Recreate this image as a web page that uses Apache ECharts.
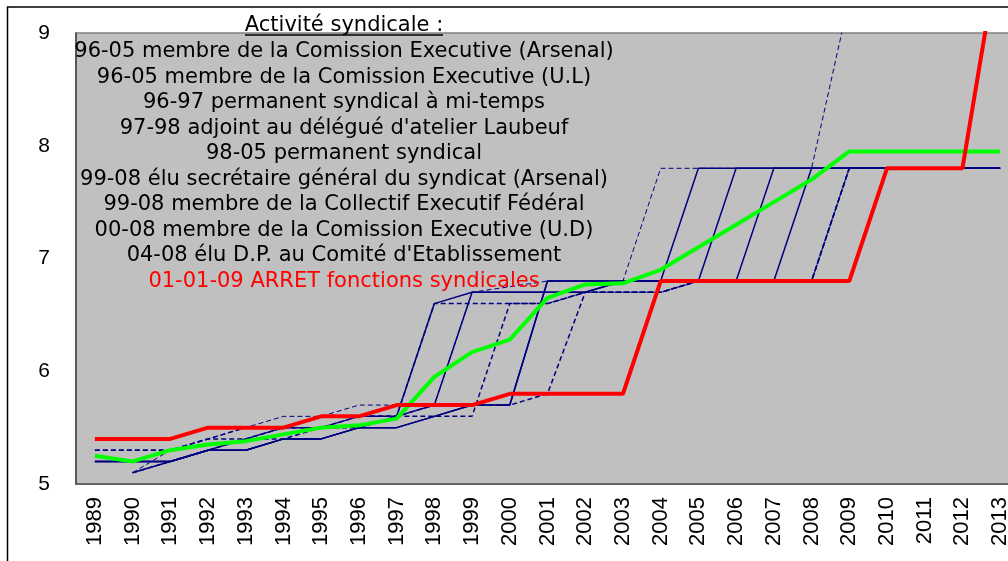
<!DOCTYPE html>
<html>
<head>
<meta charset="utf-8">
<script src="https://cdn.jsdelivr.net/npm/echarts@6/dist/echarts.min.js"></script>
<style>
  html, body { margin: 0; padding: 0; background: #fff; overflow: hidden; }
  #chart { width: 1019px; height: 561px; }
</style>
</head>
<body>
<div id="chart"></div>
<script>
// annees
const years = ["1989", "1990", "1991", "1992", "1993", "1994", "1995", "1996", "1997", "1998", "1999", "2000", "2001",
  "2002", "2003", "2004", "2005", "2006", "2007", "2008", "2009", "2010", "2011", "2012", "2013"];

// parcours personnel (rouge) et moyenne (vert)
const redLine = [5.4, 5.4, 5.4, 5.5, 5.5, 5.5, 5.6, 5.6, 5.7, 5.7, 5.7, 5.8, 5.8, 5.8, 5.8, 6.8, 6.8, 6.8, 6.8, 6.8, 6.8, 7.8, 7.8, 7.8, 9.8];
const greenLine = [5.25, 5.2, 5.3, 5.35, 5.38, 5.44, 5.5, 5.52, 5.58, 5.95, 6.17, 6.28, 6.65, 6.77, 6.78, 6.9, 7.1, 7.3, 7.5, 7.7, 7.95, 7.95, 7.95, 7.95, 7.95];

// collegues (bleu plein)
const blueS1 = [5.2, 5.2, 5.2, 5.3, 5.3, 5.4, 5.4, 5.5, 5.6, 6.6, 6.7, 6.7, 6.7, 6.7, 6.8, 6.8, 6.8, 7.8, 7.8, 7.8, 7.8, 7.8, 7.8, 7.8, 7.8];
const blueS2 = [null, 5.1, 5.2, 5.3, 5.4, 5.5, 5.5, 5.6, 5.6, 5.7, 6.7, 6.7, 6.7, 6.7, 6.8, 6.8, 6.8, 6.8, 7.8, 7.8, 7.8, 7.8, 7.8, 7.8, 7.8];
const blueS5 = [5.2, 5.2, 5.2, 5.3, 5.3, 5.4, 5.4, 5.5, 5.5, 5.6, 5.7, 5.7, 6.8, 6.8, 6.8, 6.8, 7.8, 7.8, 7.8, 7.8, 7.8, 7.8, 7.8, 7.8, 7.8];
const blueS6 = [5.2, 5.2, 5.2, 5.3, 5.3, 5.4, 5.4, 5.5, 5.5, 5.6, 5.7, 5.7, 6.8, 6.8, 6.8, 6.8, 6.8, 6.8, 6.8, 7.8, 7.8, 7.8, 7.8, 7.8, 7.8];
// collegues (bleu pointille)
const blueS3 = [null, 5.1, 5.3, 5.4, 5.5, 5.6, 5.6, 5.7, 5.7, 5.7, 6.7, 6.75, 6.8, 6.8, 6.8, 7.8, 7.8, 7.8, 7.8, 7.8, 9.3, 9.3, 9.3, 9.3, 9.3];
const blueS4 = [null, 5.1, 5.2, 5.3, 5.4, 5.4, 5.5, 5.5, 5.6, 5.6, 5.6, 6.6, 6.6, 6.7, 6.7, 6.7, 6.8, 6.8, 6.8, 6.8, 7.8, 7.8, 7.8, 7.8, 7.8];
const blueS7 = [5.3, 5.3, 5.3, 5.4, 5.4, 5.5, 5.5, 5.6, 5.6, 6.6, 6.6, 6.6, 6.6, 6.7, 6.7, 6.7, 6.8, 6.8, 6.8, 6.8, 7.8, 7.8, 7.8, 7.8, 7.8];
const blueS8 = [5.3, 5.3, 5.3, 5.4, 5.5, 5.5, 5.6, 5.6, 5.6, 5.7, 5.7, 5.7, 5.8, 6.7, 6.7, 6.7, 6.8, 6.8, 6.8, 6.8, 7.8, 7.8, 7.8, 7.8, 7.8];

const yTicks = [5, 9, 1]; // min, max, interval

const notes = [
  "96-05 membre de la Comission Executive (Arsenal)",
  "96-05 membre de la Comission Executive (U.L)",
  "96-97 permanent syndical à mi-temps",
  "97-98 adjoint au délégué d'atelier Laubeuf",
  "98-05 permanent syndical",
  "99-08 élu secrétaire général du syndicat (Arsenal)",
  "99-08 membre de la Collectif Executif Fédéral",
  "00-08 membre de la Comission Executive (U.D)",
  "04-08 élu D.P. au Comité d'Etablissement"
];
const stopNote = "01-01-09 ARRET fonctions syndicales";

const noteFont = "21px 'DejaVu Sans', sans-serif";
const navy = "#000080";

function blueLine(data, dashed, width) {
  return {
    type: "line",
    data: data,
    symbol: "none",
    silent: true,
    z: 2,
    lineStyle: {
      color: navy,
      width: width || 1.5,
      type: dashed ? [5, 3] : "solid"
    }
  };
}

const chart = echarts.init(document.getElementById("chart"));

const graphics = [];
graphics.push({
  type: "text",
  z: 10,
  x: 344,
  y: 26,
  style: { text: "Activité syndicale :", fill: "#000", font: noteFont, textAlign: "center", textVerticalAlign: "middle" }
});
notes.forEach((t, i) => {
  graphics.push({
    type: "text",
    z: 10,
    x: 344,
    y: 52 + i * 25.5,
    style: { text: t, fill: "#000", font: noteFont, textAlign: "center", textVerticalAlign: "middle" }
  });
});
graphics.push({
  type: "text",
  z: 10,
  x: 344,
  y: 52 + notes.length * 25.5,
  style: { text: stopNote, fill: "#ff0000", font: noteFont, textAlign: "center", textVerticalAlign: "middle" }
});
// soulignement du titre
graphics.push({
  type: "line",
  z: 10,
  shape: { x1: 245, y1: 35, x2: 443, y2: 35 },
  style: { stroke: "#000", lineWidth: 1.5 }
});
// cadre exterieur
graphics.push({
  type: "rect",
  z: 0,
  shape: { x: 7.5, y: 7, width: 1100, height: 700 },
  style: { fill: "none", stroke: "#000", lineWidth: 1.5 }
});

chart.setOption({
  animation: false,
  backgroundColor: "#fff",
  grid: {
    left: 76,
    top: 33,
    bottom: 77,
    right: 0,
    show: true,
    backgroundColor: "#c0c0c0",
    borderColor: "#808080",
    borderWidth: 1.5
  },
  xAxis: {
    type: "category",
    data: years,
    boundaryGap: true,
    axisLine: { lineStyle: { color: "#555", width: 1.5 } },
    axisTick: { show: false },
    axisLabel: {
      rotate: 90,
      margin: 13,
      color: "#000",
      fontSize: 22,
      fontFamily: "'Liberation Sans Narrow', 'Liberation Sans', Arial, sans-serif",
      interval: 0
    },
    splitLine: { show: false }
  },
  yAxis: {
    type: "value",
    min: yTicks[0],
    max: yTicks[1],
    interval: yTicks[2],
    axisLine: { show: true, lineStyle: { color: "#444", width: 1.5 } },
    axisTick: { show: false },
    axisLabel: {
      margin: 26,
      color: "#000",
      fontSize: 21,
      fontFamily: "'Liberation Sans', Arial, sans-serif"
    },
    splitLine: { show: false }
  },
  graphic: graphics,
  series: [
    blueLine(blueS1, false),
    blueLine(blueS2, false),
    blueLine(blueS5, false),
    blueLine(blueS6, false),
    blueLine(blueS3, true, 1),
    blueLine(blueS4, true),
    blueLine(blueS7, true),
    blueLine(blueS8, true),
    {
      type: "line",
      data: greenLine,
      symbol: "none",
      z: 3,
      lineStyle: { color: "#00ff00", width: 4 }
    },
    {
      type: "line",
      data: redLine,
      symbol: "none",
      z: 4,
      lineStyle: { color: "#ff0000", width: 4 }
    }
  ]
});

window.addEventListener("resize", () => {
  chart.resize();
});
</script>
</body>
</html>
